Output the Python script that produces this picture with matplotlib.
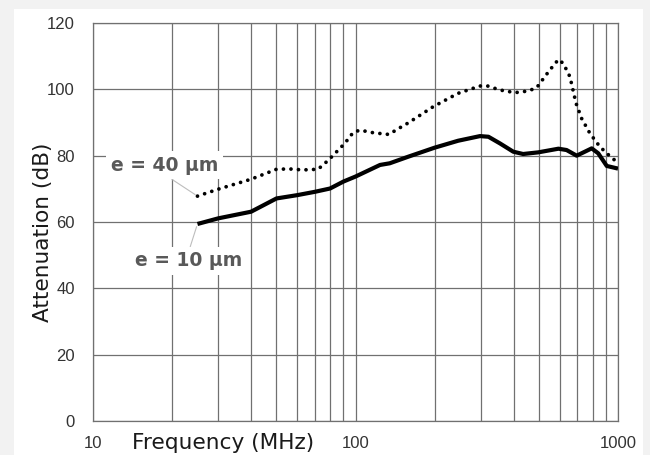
import matplotlib
matplotlib.use("Agg")
import matplotlib.pyplot as plt
from matplotlib.patches import Rectangle
from matplotlib.ticker import FixedLocator, NullFormatter, FixedFormatter

# ---- data ----
freq_10um = [25, 30, 40, 50, 60, 70, 80, 90, 100, 124, 135, 159, 200, 246, 298,
             321, 355, 399, 435, 497, 593, 637, 696, 794, 841, 906, 1000]
att_10um = [59.4, 61.1, 63.1, 67.1, 68.1, 69.1, 70.1, 72.2, 73.7, 77.2, 77.7, 79.7,
            82.4, 84.5, 85.9, 85.7, 83.7, 81.2, 80.5, 81.0, 82.1, 81.7, 80.0, 82.2,
            80.7, 76.9, 76.1]

freq_40um = [25, 30, 40, 50, 56, 63, 72, 79, 86, 91, 98, 104, 117, 134, 146, 159,
             198, 246, 298, 316, 355, 405, 455, 490, 547, 593, 619, 656, 692, 727,
             782, 853, 959, 1000]
att_40um = [67.8, 69.9, 72.9, 75.9, 76.0, 75.7, 75.9, 78.7, 81.7, 83.7, 87.0, 87.7,
            86.9, 86.4, 88.2, 89.9, 94.8, 98.8, 101.0, 101.1, 99.8, 99.0, 99.5, 100.5,
            105.6, 109.0, 107.8, 103.8, 95.8, 91.2, 86.7, 82.7, 78.9, 78.4]

x_major = [10, 100, 1000]
x_major_labels = ["10", "100", "1000"]
x_minor = [20, 30, 40, 50, 60, 70, 80, 90, 200, 300, 400, 500, 600, 700, 800, 900]
y_ticks = [0, 20, 40, 60, 80, 100, 120]

label_40 = "e = 40 µm"
label_10 = "e = 10 µm"
x_title = "Frequency (MHz)"
y_title = "Attenuation (dB)"

# ---- figure ----
W, H = 650, 455
fig = plt.figure(figsize=(W / 100, H / 100), dpi=100, facecolor="#f2f2f2")
fig.patches.append(Rectangle((14 / W, 0), (643 - 14) / W, (H - 9) / H,
                             transform=fig.transFigure, facecolor="white",
                             edgecolor="none", zorder=-5))

ax = fig.add_axes([93 / W, 1 - 421 / H, (618 - 93) / W, (421 - 23) / H])
ax.set_zorder(2)
ax.set_xscale("log")
ax.set_xlim(10, 1000)
ax.set_ylim(0, 120)

gridc = "#707070"
ax.xaxis.set_major_locator(FixedLocator(x_major))
ax.xaxis.set_major_formatter(FixedFormatter(x_major_labels))
ax.xaxis.set_minor_locator(FixedLocator(x_minor))
ax.xaxis.set_minor_formatter(NullFormatter())
ax.set_yticks(y_ticks)
ax.grid(True, which="both", axis="x", color=gridc, lw=0.9)
ax.grid(True, which="major", axis="y", color=gridc, lw=0.9)
ax.set_axisbelow(True)
for s in ax.spines.values():
    s.set_color(gridc)
    s.set_linewidth(0.9)

ax.tick_params(axis="both", which="both", length=0, colors="#333333")
ax.tick_params(axis="y", pad=13)
ax.tick_params(axis="x", pad=11)
for lab in ax.get_xticklabels() + ax.get_yticklabels():
    lab.set_fontfamily("Liberation Sans")
    lab.set_fontsize(12)

ax.plot(freq_10um, att_10um, color="black", lw=3.0, solid_capstyle="butt",
        solid_joinstyle="round", zorder=3)
ax.plot(freq_40um, att_40um, color="black", lw=2.7, linestyle=(0, (0.01, 2.0)),
        dash_capstyle="round", zorder=3)

ann_kw = dict(fontsize=13.5, fontweight="bold", color="#595959",
              family="DejaVu Sans", ha="center", va="center",
              textcoords="offset points",
              bbox=dict(boxstyle="square,pad=0.25", fc="white", ec="none"))
ax.annotate(label_40, xy=(freq_40um[0], att_40um[0]), xytext=(-23.5, 22.3),
            arrowprops=dict(arrowstyle="-", color="#bdbdbd", lw=0.8,
                            relpos=(0.5, 0.0), shrinkA=0, shrinkB=2),
            zorder=4, **ann_kw)
ax.annotate(label_10, xy=(freq_10um[0], att_10um[0]), xytext=(-6.3, -26.6),
            arrowprops=dict(arrowstyle="-", color="#bdbdbd", lw=0.8,
                            relpos=(0.5, 1.0), shrinkA=0, shrinkB=2),
            zorder=4, **ann_kw)

fig.text(223 / W, 1 - 443 / H, x_title, ha="center", va="center",
         fontsize=15.6, family="DejaVu Sans", color="#1a1a1a")
fig.text(43 / W, 1 - 232 / H, y_title, ha="center", va="center", rotation=90,
         fontsize=15.6, family="DejaVu Sans", color="#1a1a1a")

fig.savefig("out.png", dpi=100, facecolor=fig.get_facecolor())
